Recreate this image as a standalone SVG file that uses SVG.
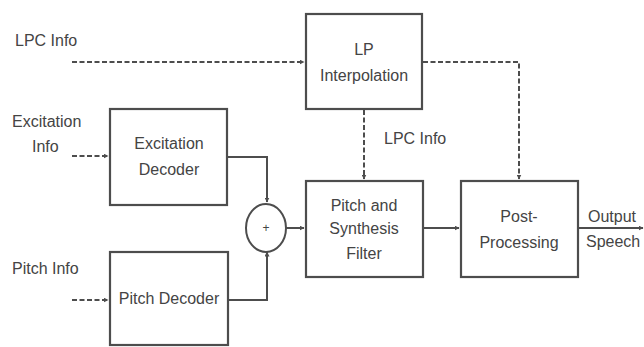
<svg xmlns="http://www.w3.org/2000/svg" width="644" height="347" viewBox="0 0 644 347">
<defs>
<marker id="arr" viewBox="0 0 10 10" refX="9" refY="5" markerWidth="5" markerHeight="5" orient="auto" markerUnits="userSpaceOnUse">
<path d="M0,0 L10,5 L0,10 Z" fill="#4d4d4d"/>
</marker>
<style>
.box{fill:#fff;stroke:#4d4d4d;stroke-width:2.2}
.t{font-family:"Liberation Sans",Arial,sans-serif;font-size:16px;fill:#444}
.c{text-anchor:middle}
.ln{fill:none;stroke:#4d4d4d;stroke-width:2}
.ds{fill:none;stroke:#4d4d4d;stroke-width:2;stroke-dasharray:5,2.5}
</style>
</defs>
<rect width="644" height="347" fill="#fff"/>
<g id="connectors">
<path class="ds" d="M72,62 H304" marker-end="url(#arr)"/>
<path class="ds" d="M72,156 H108" marker-end="url(#arr)"/>
<path class="ds" d="M72,300 H108" marker-end="url(#arr)"/>
<path class="ds" d="M364,110 V179" marker-end="url(#arr)"/>
<path class="ds" d="M423,62 H519 V179" marker-end="url(#arr)"/>
<path class="ln" d="M228,157 H267 V202" marker-end="url(#arr)"/>
<path class="ln" d="M228,300 H267 V252" marker-end="url(#arr)"/>
<path class="ln" d="M286,228 H304" marker-end="url(#arr)"/>
<path class="ln" d="M424,228 H459" marker-end="url(#arr)"/>
<path class="ln" d="M579,228 H643" marker-end="url(#arr)"/>
</g>
<g id="lpc-info-label"><text class="t" x="15" y="46">LPC Info</text></g>
<g id="excitation-info-label"><text class="t" x="12" y="127">Excitation</text><text class="t" x="32" y="152">Info</text></g>
<g id="pitch-info-label"><text class="t" x="12" y="274">Pitch Info</text></g>
<g id="lpc-info-label2"><text class="t" x="384" y="144">LPC Info</text></g>
<g id="output-label"><text class="t" x="588" y="222">Output</text><text class="t" x="586" y="247">Speech</text></g>
<g id="lp-interpolation">
<rect class="box" x="306" y="14" width="116" height="95"/>
<text class="t c" x="364" y="55">LP</text>
<text class="t c" x="364" y="81">Interpolation</text>
</g>
<g id="excitation-decoder">
<rect class="box" x="110" y="109" width="117" height="96"/>
<text class="t c" x="169" y="149">Excitation</text>
<text class="t c" x="169" y="175">Decoder</text>
</g>
<g id="pitch-decoder">
<rect class="box" x="110" y="252" width="118" height="93"/>
<text class="t c" x="169" y="304">Pitch Decoder</text>
</g>
<g id="adder">
<ellipse cx="266" cy="228" rx="20" ry="24" fill="#fff" stroke="#4d4d4d" stroke-width="2"/>
<text class="t c" x="266" y="232" style="font-size:12px">+</text>
</g>
<g id="pitch-synthesis-filter">
<rect class="box" x="306" y="181" width="117" height="96"/>
<text class="t c" x="364" y="211">Pitch and</text>
<text class="t c" x="364" y="234">Synthesis</text>
<text class="t c" x="364" y="259">Filter</text>
</g>
<g id="post-processing">
<rect class="box" x="461" y="181" width="117" height="96"/>
<text class="t c" x="519" y="222">Post-</text>
<text class="t c" x="519" y="248">Processing</text>
</g>
</svg>
